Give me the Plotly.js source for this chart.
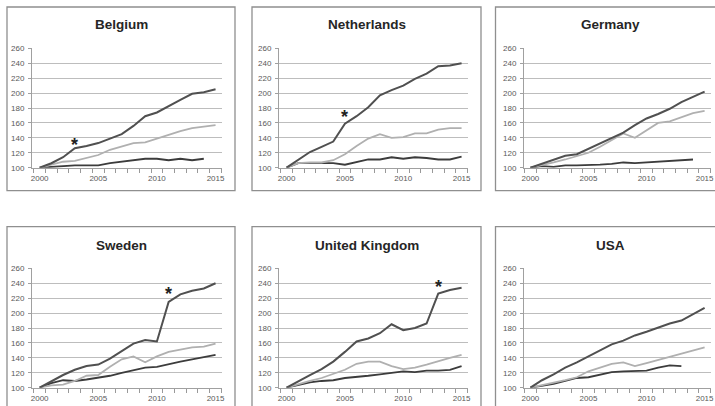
<!DOCTYPE html>
<html>
<head>
<meta charset="utf-8">
<script src="https://cdn.plot.ly/plotly-3.0.1.min.js"></script>
<style>
html,body{margin:0;padding:0;background:#fff;}
#chart{width:715px;height:406px;}
</style>
</head>
<body>
<div id="chart"></div>
<script>
// ---------- data ----------
const years = [2000,2001,2002,2003,2004,2005,2006,2007,2008,2009,2010,2011,2012,2013,2014,2015];
const countries = ["Belgium","Netherlands","Germany","Sweden","United Kingdom","USA"];

const belgiumTop = [100,106,114,126,129,133,139,145,156,169,174,183,191,199,201,205];
const belgiumMid = [100,104,108,109,113,117,124,129,133,134,139,145,149,153,155,157];
const belgiumBot = [100,101,101,103,103,103,106,108,109,112,112,110,112,110,112];

const netherlandsTop = [100,111,121,128,135,159,169,181,197,204,210,219,226,236,237,240];
const netherlandsMid = [100,106,107,107,110,118,129,139,145,140,141,146,146,151,153,153];
const netherlandsBot = [100,106,106,106,106,104,108,111,111,114,112,114,113,111,111,115];

const germanyTop = [100,105,110,116,118,125,133,139,147,157,166,172,179,188,195,202];
const germanyMid = [100,103,107,111,115,120,128,137,146,140,150,160,162,167,173,176];
const germanyBot = [100,102,101,103,103,103,104,105,107,106,107,108,109,109,111];

const swedenTop = [100,109,117,124,129,131,139,149,159,164,162,215,225,230,233,240];
const swedenMid = [100,103,104,109,116,117,128,138,142,134,142,148,151,154,155,159];
const swedenBot = [100,106,110,109,111,113,116,120,123,127,128,131,135,138,141,144];

const ukTop = [100,109,117,125,135,148,162,166,173,185,177,180,186,226,231,234];
const ukMid = [100,105,109,113,118,124,132,135,135,129,125,127,131,136,140,144];
const ukBot = [100,104,107,109,110,113,114,116,118,120,122,121,123,123,124,129];

const usaTop = [100,110,118,127,134,142,151,158,163,170,175,181,186,190,198,207];
const usaMid = [100,103,106,110,114,122,127,132,134,129,133,137,141,145,150,154];
const usaBot = [100,102,105,109,113,114,118,121,122,122,123,127,130,129];

// asterisk markers (country index, year, value)
const starCountry = [0,1,3,4];
const starYear = [2003,2005,2011,2013];
const starValue = [137,174,232,241];

const yTicks = [100,120,140,160,180,200,220,240,260];
const xTicks = [2000,2005,2010,2015];
// category boundaries (tick marks between years)
const xBoundaries = [1999.5,2000.5,2001.5,2002.5,2003.5,2004.5,2005.5,2006.5,2007.5,2008.5,2009.5,2010.5,2011.5,2012.5,2013.5,2014.5,2015.5];

// ---------- layout helpers ----------
const W = 715, H = 406;
const topSeries = [belgiumTop, netherlandsTop, germanyTop, swedenTop, ukTop, usaTop];
const midSeries = [belgiumMid, netherlandsMid, germanyMid, swedenMid, ukMid, usaMid];
const botSeries = [belgiumBot, netherlandsBot, germanyBot, swedenBot, ukBot, usaBot];

const colPlot = [[32,222],[279,468],[524,711]];
const rowPlot = [[48.3,167.7],[268.3,387.7]];
const colBox = [[7,235],[252,481],[495.5,724]];
const rowBox = [[7,190.7],[226.7,420]];
const titleX = [121,367,610];
const titleY = [25,245.5];
const xRanges = [[1999.35,2015.55],[1999.35,2015.55],[1999.45,2015.55]];

const px = v => v / W;
const py = v => 1 - v / H;

const traces = [];
const layout = {
  width: W, height: H,
  margin: {l:0, r:0, t:0, b:0},
  paper_bgcolor: '#ffffff',
  plot_bgcolor: '#ffffff',
  showlegend: false,
  font: {family: 'Liberation Sans, Arial, sans-serif', color: '#595959', size: 8},
  shapes: [],
  annotations: []
};

const lineStyles = [
  {color:'#505050', width:2},
  {color:'#b0b0b0', width:1.8},
  {color:'#3c3c3c', width:1.8}
];

countries.forEach((name, i) => {
  const c = i % 3, r = Math.floor(i / 3);
  const n = i + 1;
  const xa = n === 1 ? 'x' : 'x' + n;
  const ya = n === 1 ? 'y' : 'y' + n;
  const xKey = n === 1 ? 'xaxis' : 'xaxis' + n;
  const yKey = n === 1 ? 'yaxis' : 'yaxis' + n;
  const tn = n + 6;
  const tKey = 'xaxis' + tn;

  [botSeries[i], midSeries[i], topSeries[i]].forEach((vals, k) => {
    const st = lineStyles[2 - k];
    traces.push({
      type: 'scatter', mode: 'lines',
      x: years.slice(0, vals.length), y: vals,
      xaxis: xa, yaxis: ya,
      line: {color: st.color, width: st.width},
      hoverinfo: 'skip'
    });
  });

  layout[xKey] = {
    domain: [px(colPlot[c][0]), px(colPlot[c][1])],
    anchor: ya,
    range: xRanges[c],
    tickmode: 'array', tickvals: xTicks, ticktext: xTicks.map(String),
    ticks: '', ticklabelstandoff: 3,
    showline: true, linecolor: '#a0a0a0', linewidth: 1,
    showgrid: false, zeroline: false, fixedrange: true,
    tickfont: {size: 8, color: '#595959'}
  };
  // tick marks at category boundaries
  layout[tKey] = {
    domain: [px(colPlot[c][0]), px(colPlot[c][1])],
    anchor: ya, overlaying: xa, side: 'bottom',
    range: xRanges[c],
    tickmode: 'array', tickvals: xBoundaries,
    ticks: 'outside', ticklen: 4, tickwidth: 1, tickcolor: '#999999',
    showticklabels: false, showline: false, showgrid: false, zeroline: false, fixedrange: true
  };
  traces.push({
    type: 'scatter', mode: 'lines', x: [], y: [],
    xaxis: 'x' + tn, yaxis: ya, hoverinfo: 'skip', showlegend: false
  });

  layout[yKey] = {
    domain: [py(rowPlot[r][1]), py(rowPlot[r][0])],
    anchor: xa,
    range: [100, 260],
    tickmode: 'array', tickvals: yTicks, ticktext: yTicks.map(String),
    ticks: 'outside', ticklen: 3, tickcolor: '#a0a0a0',
    ticklabelstandoff: 2,
    showline: true, linecolor: '#a0a0a0', linewidth: 1,
    showgrid: true, gridcolor: '#bdbdbd', gridwidth: 1,
    zeroline: false, fixedrange: true,
    tickfont: {size: 8, color: '#595959'}
  };

  layout.shapes.push({
    type: 'rect', xref: 'paper', yref: 'paper',
    x0: px(colBox[c][0]), x1: px(colBox[c][1]),
    y0: py(rowBox[r][1]), y1: py(rowBox[r][0]),
    line: {color: '#8f8f8f', width: 1.3}, fillcolor: 'rgba(0,0,0,0)', layer: 'below'
  });

  layout.annotations.push({
    xref: 'paper', yref: 'paper',
    x: px(titleX[c]), y: py(titleY[r]),
    xanchor: 'center', yanchor: 'middle', showarrow: false,
    text: '<b>' + name + '</b>',
    font: {family: 'Liberation Sans, Arial, sans-serif', size: 13.5, color: '#262626'}
  });
});

starCountry.forEach((ci, k) => {
  const n = ci + 1;
  layout.annotations.push({
    xref: n === 1 ? 'x' : 'x' + n,
    yref: n === 1 ? 'y' : 'y' + n,
    x: starYear[k], y: starValue[k],
    text: '<b>*</b>', showarrow: false,
    xanchor: 'center', yanchor: 'middle', yshift: -5,
    font: {family: 'Liberation Sans, Arial, sans-serif', size: 18, color: '#222222'}
  });
});

Plotly.newPlot('chart', traces, layout, {staticPlot: true, displayModeBar: false});
</script>
</body>
</html>
